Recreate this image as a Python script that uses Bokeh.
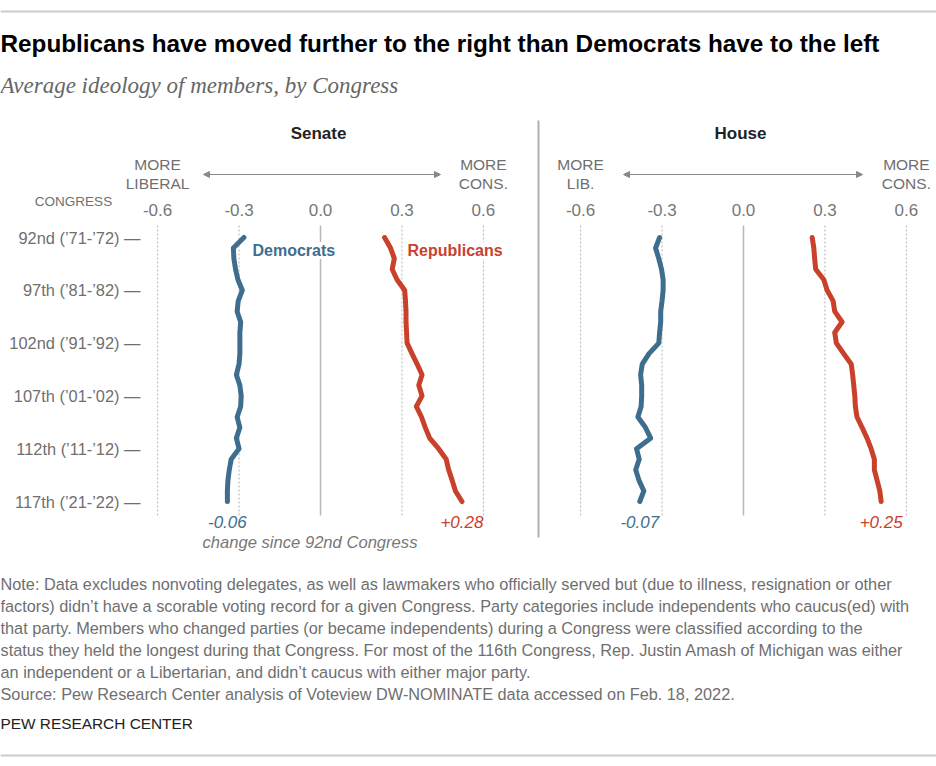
from bokeh.plotting import figure
from bokeh.models import Range1d, Label, Arrow, NormalHead
from bokeh.embed import file_html
from bokeh.resources import INLINE

# ---------------- data ----------------
congress = list(range(92, 118))
senate_dem = [-0.282, -0.321, -0.319, -0.313, -0.304, -0.288, -0.303, -0.307, -0.294, -0.297,
              -0.297, -0.297, -0.300, -0.310, -0.297, -0.292, -0.294, -0.307, -0.297, -0.310,
              -0.300, -0.329, -0.336, -0.341, -0.343, -0.343]
senate_rep = [0.236, 0.258, 0.272, 0.264, 0.282, 0.310, 0.313, 0.315, 0.315, 0.317,
              0.319, 0.337, 0.356, 0.374, 0.362, 0.374, 0.353, 0.372, 0.386, 0.402,
              0.435, 0.463, 0.472, 0.485, 0.497, 0.521]
house_dem = [-0.309, -0.324, -0.312, -0.302, -0.296, -0.296, -0.300, -0.305, -0.305, -0.309,
             -0.312, -0.348, -0.373, -0.379, -0.375, -0.375, -0.377, -0.389, -0.361, -0.342,
             -0.394, -0.384, -0.397, -0.385, -0.367, -0.382]
house_rep = [0.253, 0.259, 0.262, 0.266, 0.296, 0.308, 0.330, 0.336, 0.363, 0.336,
             0.342, 0.369, 0.397, 0.402, 0.406, 0.410, 0.412, 0.418, 0.437, 0.455,
             0.470, 0.482, 0.482, 0.492, 0.502, 0.507]

tick_values = [-0.6, -0.3, 0.0, 0.3, 0.6]
tick_labels = ["-0.6", "-0.3", "0.0", "0.3", "0.6"]
congress_ticks = [92, 97, 102, 107, 112, 117]
congress_tick_labels = ["92nd (’71-’72) —", "97th (’81-’82) —", "102nd (’91-’92) —",
                        "107th (’01-’02) —", "112th (’11-’12) —", "117th (’21-’22) —"]
senate_change_labels = ["-0.06", "+0.28"]
house_change_labels = ["-0.07", "+0.25"]

title = "Republicans have moved further to the right than Democrats have to the left"
subtitle = "Average ideology of members, by Congress"
notes = [
    "Note: Data excludes nonvoting delegates, as well as lawmakers who officially served but (due to illness, resignation or other",
    "factors) didn’t have a scorable voting record for a given Congress. Party categories include independents who caucus(ed) with",
    "that party. Members who changed parties (or became independents) during a Congress were classified according to the",
    "status they held the longest during that Congress. For most of the 116th Congress, Rep. Justin Amash of Michigan was either",
    "an independent or a Libertarian, and didn’t caucus with either major party.",
    "Source: Pew Research Center analysis of Voteview DW-NOMINATE data accessed on Feb. 18, 2022.",
]
credit = "PEW RESEARCH CENTER"

# ---------------- layout ----------------
W, H = 936, 766
PXU = 271.5          # pixels per ideology unit
S0 = 320             # canvas x of Senate 0.0
H0 = 743             # canvas x of House 0.0
Y92 = 237            # canvas y (from top) of 92nd Congress
PYC = 10.56          # pixels per Congress

DEM = "#3f6d8e"
REP = "#c9412b"
GRID = "#b5b5b5"
TXT = "#6f6f6f"
FONT = "Liberation Sans"


def sy(img_y):
    return H - img_y


def cong(img_y):
    return 92 + (img_y - Y92) / PYC


def sen_x(img_x):
    return (img_x - S0) / PXU


p = figure(width=W, height=H, output_backend="svg", toolbar_location=None,
           x_range=Range1d(-S0 / PXU, (W - S0) / PXU),
           y_range=Range1d(92 + (H - Y92) / PYC, 92 - Y92 / PYC),
           x_axis_type=None, y_axis_type=None, min_border=0,
           min_border_left=0, min_border_right=0, min_border_top=0, min_border_bottom=0)
p.extra_x_ranges = {"house": Range1d(-H0 / PXU, (W - H0) / PXU)}
p.grid.visible = False
p.outline_line_color = None
p.background_fill_color = "white"


def lab(text, x, y, size, color=TXT, style="normal", align="left", font=FONT,
        x_units="screen", y_units="screen", x_range_name="default", bg=None):
    l = Label(x=x, y=y, x_units=x_units, y_units=y_units, text=text,
              text_font=font, text_font_size=f"{size}px", text_color=color,
              text_font_style=style, text_align=align, text_baseline="middle",
              x_range_name=x_range_name)
    if bg:
        l.background_fill_color = bg
    p.add_layout(l)


# rules
p.segment(x0=[sen_x(0)], x1=[sen_x(936)], y0=[cong(11)], y1=[cong(11)],
          line_color="#cccccc", line_width=2)
p.segment(x0=[sen_x(0)], x1=[sen_x(936)], y0=[cong(755)], y1=[cong(755)],
          line_color="#cccccc", line_width=2)
# divider between panels
p.segment(x0=[sen_x(538)], x1=[sen_x(538)], y0=[cong(120)], y1=[cong(537)],
          line_color="#b0b0b0", line_width=2)

# title & subtitle
lab(title, 0, sy(43), 24.3, color="#000000", style="bold")
lab(subtitle, 0, sy(85), 23, color="#666666", style="italic", font="Liberation Serif")

# panels
for rname, chamber, head_lbl, cx_title, arrow_x in [
        ("default", "Senate", "MORE|LIBERAL", 318, (203, 440)),
        ("house", "House", "MORE|LIB.", 740, (623, 862))]:
    lab(chamber, cx_title, sy(133), 17, color="#222222", style="bold", align="center")
    l1, l2 = head_lbl.split("|")
    lab(l1, tick_values[0], sy(164), 15.5, align="center", x_units="data", x_range_name=rname)
    lab(l2, tick_values[0], sy(183), 15.5, align="center", x_units="data", x_range_name=rname)
    lab("MORE", tick_values[-1], sy(164), 15.5, align="center", x_units="data", x_range_name=rname)
    lab("CONS.", tick_values[-1], sy(183), 15.5, align="center", x_units="data", x_range_name=rname)
    p.add_layout(Arrow(start=NormalHead(size=6, fill_color="#888888", line_color="#888888"),
                       end=NormalHead(size=6, fill_color="#888888", line_color="#888888"),
                       x_start=arrow_x[0], y_start=sy(174), x_end=arrow_x[1], y_end=sy(174),
                       start_units="screen", end_units="screen",
                       line_color="#888888", line_width=1))
    for v, t in zip(tick_values, tick_labels):
        lab(t, v, sy(209), 17, color="#777777", align="center", x_units="data", x_range_name=rname)
        if v == 0:
            p.segment(x0=[v], x1=[v], y0=[cong(225)], y1=[cong(515)], line_color="#b8b8b8",
                      line_width=1.5, x_range_name=rname)
        else:
            p.segment(x0=[v], x1=[v], y0=[cong(225)], y1=[cong(515)], line_color=GRID,
                      line_width=1, line_dash="2 2", x_range_name=rname)

lab("CONGRESS", 73, sy(201), 13.5, align="center")
for c, t in zip(congress_ticks, congress_tick_labels):
    lab(t, 140, c, 16.4, align="right", y_units="data")

# lines
p.line(senate_dem, congress, line_color=DEM, line_width=5, line_join="round", line_cap="round")
p.line(senate_rep, congress, line_color=REP, line_width=5, line_join="round", line_cap="round")
p.line(house_dem, congress, line_color=DEM, line_width=5, line_join="round", line_cap="round",
       x_range_name="house")
p.line(house_rep, congress, line_color=REP, line_width=5, line_join="round", line_cap="round",
       x_range_name="house")

lab("Democrats", 252, sy(250), 16, color=DEM, style="bold", bg="white")
lab("Republicans", 407, sy(250), 16, color=REP, style="bold", bg="white")

# change labels
lab(senate_change_labels[0], senate_dem[-1], sy(521), 17, color=DEM, style="italic", align="center",
    x_units="data")
lab(senate_change_labels[1], senate_rep[-1], sy(521), 17, color=REP, style="italic", align="center",
    x_units="data")
lab(house_change_labels[0], house_dem[-1], sy(521), 17, color=DEM, style="italic", align="center",
    x_units="data", x_range_name="house")
lab(house_change_labels[1], house_rep[-1], sy(521), 17, color=REP, style="italic", align="center",
    x_units="data", x_range_name="house")
lab("change since 92nd Congress", 202, sy(542), 16.6, color="#777777", style="italic")

# notes
for i, line in enumerate(notes):
    lab(line, 0, sy(583 + 22 * i), 16.3, color=TXT)
lab(credit, 0, sy(723), 15.4, color="#222222")

open("out.html", "w").write(file_html(p, INLINE))
